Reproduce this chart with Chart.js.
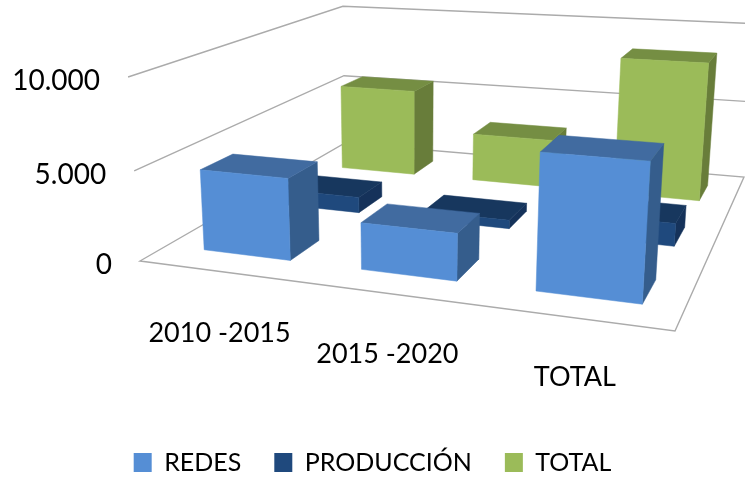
<!DOCTYPE html>
<html><head><meta charset="utf-8">
<style>html,body{margin:0;padding:0;background:#fff}#wrap{width:745px;height:477px}</style>
<script src="https://cdn.jsdelivr.net/npm/chart.js@4"></script>
</head><body><div id="wrap"><canvas id="c" width="745" height="477"></canvas></div>
<script>
const categories = ['2010 -2015', '2015 -2020', 'TOTAL'];
const redes = [4550, 2550, 7100];
const produccion = [950, 500, 1300];
const total = [5600, 3050, 8500];
const yTicks = [0, 5000, 10000];

const FLOOR = [[140,261],[675,331],[744,177],[345,143]];
const VANISH = [411,4437];
const K = -0.0422;
const DEPTH = 0.39;
const COLORS = {
  REDES:      {front:'#558ED5', top:'#416BA0', side:'#355D8C'},
  'PRODUCCIÓN':{front:'#1F497D', top:'#17375E', side:'#15325A'},
  TOTAL:      {front:'#9BBB59', top:'#758E43', side:'#687D3A'}
};
function homography(q){
  const [[x0,y0],[x1,y1],[x2,y2],[x3,y3]] = q;
  const dx1=x1-x2, dx2=x3-x2, sx=x0-x1+x2-x3, dy1=y1-y2, dy2=y3-y2, sy=y0-y1+y2-y3;
  const den=dx1*dy2-dx2*dy1, g=(sx*dy2-dx2*sy)/den, h=(dx1*sy-sx*dy1)/den;
  const a=x1-x0+g*x1, b=x3-x0+h*x3, d=y1-y0+g*y1, e=y3-y0+h*y3;
  return (u,v)=>[a*u+b*v+x0, d*u+e*v+y0, g*u+h*v+1];
}
const floorMap = homography(FLOOR);
function project(u,d,f){
  const [X,Y,W]=floorMap(u,d), t=f*K, w=W+t;
  return [(X+t*VANISH[0])/w,(Y+t*VANISH[1])/w];
}
function poly(ctx,pts,color){
  ctx.beginPath(); pts.forEach((p,i)=>i?ctx.lineTo(p[0],p[1]):ctx.moveTo(p[0],p[1])); ctx.closePath();
  ctx.fillStyle=color; ctx.fill(); ctx.strokeStyle=color; ctx.lineWidth=0.5; ctx.stroke();
}
const scene3d = {
  id:'scene3d',
  beforeDatasetsDraw(chart){
    const {ctx,scales:{y}}=chart, frac=v=>(y.getPixelForValue(0)-y.getPixelForValue(v))/(y.getPixelForValue(0)-y.getPixelForValue(10000));
    ctx.save();
    ctx.strokeStyle='#ababab'; ctx.lineWidth=1.4;
    y.ticks.forEach(t=>{
      const f=frac(t.value);
      ctx.beginPath();
      const a=project(0,0,f),b=project(0,1,f),c=project(1,1,f);
      ctx.moveTo(...a);ctx.lineTo(...b);ctx.lineTo(...c);
      if(t.value===0){const e=project(1,0,0);ctx.lineTo(...e);ctx.closePath();}
      ctx.stroke();
    });
    ctx.restore();
  },
  beforeDatasetDraw(chart,args){
    const {ctx,chartArea:A}=chart, meta=args.meta, j=args.index;
    const cols=COLORS[chart.data.datasets[j].label];
    const d0=(j+0.5)/3-DEPTH/6, d1=(j+0.5)/3+DEPTH/6;
    meta.data.forEach(el=>{
      const u0=(el.x-el.width/2-A.left)/A.width, u1=(el.x+el.width/2-A.left)/A.width;
      const f=(el.base-el.y)/A.height;
      const P=(u,d,h)=>project(u+0.008+0.014*d-0.006*u-0.012*u*d,d,h);
      poly(ctx,[P(u1,d0,0),P(u1,d1,0),P(u1,d1,f),P(u1,d0,f)],cols.side);
      poly(ctx,[P(u0,d0,f),P(u1,d0,f),P(u1,d1,f),P(u0,d1,f)],cols.top);
      poly(ctx,[P(u0,d0,0),P(u1,d0,0),P(u1,d0,f),P(u0,d0,f)],cols.front);
    });
    return false;
  },
  afterDatasetsDraw(chart){
    const {ctx,scales:{x,y}}=chart, A=chart.chartArea;
    ctx.save();
    ctx.fillStyle='#000'; ctx.font='28px Lato';
    ctx.textAlign='right'; ctx.textBaseline='middle';
    y.ticks.forEach(t=>{
      const f=(y.getPixelForValue(0)-y.getPixelForValue(t.value))/A.height;
      const p=project(0,0,f);
      ctx.fillText(t.label,p[0]-28,p[1]+4);
    });
    ctx.textAlign='center'; ctx.font='27px Lato';
    x.ticks.forEach((t,i)=>{
      const u=(x.getPixelForTick(i)-A.left)/A.width;
      const p=project(u,0,0);
      ctx.fillText(t.label,p[0]+2,p[1]+63-4*u);
    });
    ctx.restore();
  }
};
const series = [['REDES',redes],['PRODUCCIÓN',produccion],['TOTAL',total]];
new Chart(document.getElementById('c'),{
  type:'bar',
  data:{labels:categories,datasets:series.map(([label,data])=>({label,data,backgroundColor:COLORS[label].front,borderWidth:0,grouped:false,barPercentage:0.56,categoryPercentage:1}))},
  options:{
    responsive:false,animation:false,
    layout:{padding:{bottom:-8}},
    plugins:{
      tooltip:{enabled:false},
      legend:{position:'bottom',labels:{boxWidth:18,boxHeight:19,padding:33,color:'#000',font:{family:'Lato',size:25}}}
    },
    scales:{
      x:{display:false},
      y:{display:false,min:0,max:10000,afterBuildTicks(s){s.ticks=yTicks.map(value=>({value}));},ticks:{callback:v=>Number(v).toLocaleString('de-DE')}}
    }
  },
  plugins:[scene3d]
});
</script></body></html>
